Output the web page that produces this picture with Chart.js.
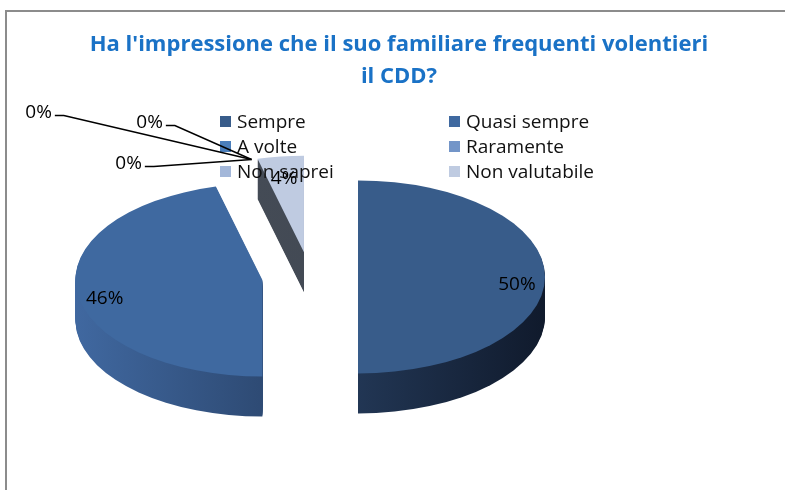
<!DOCTYPE html>
<html>
<head>
<meta charset="utf-8">
<script src="https://cdn.jsdelivr.net/npm/chart.js@4.4.0/dist/chart.umd.min.js"></script>
<style>
	body { margin: 0; background: #fff; }
</style>
</head>
<body>
<canvas id="mycanvas" width="785" height="490"></canvas>
<script>
var categories = ["Sempre", "Quasi sempre", "A volte", "Raramente", "Non saprei", "Non valutabile"];
var percentages = [50, 46, 0, 0, 0, 4];
var titleLines = ["Ha l'impressione che il suo familiare frequenti volentieri", "il CDD?"];

// colours of the top faces, and the shading of the sides (left -> right)
var topColors = ["#385c8a", "#3f69a0", "#4a7ebb", "#7395c8", "#a3b7d9", "#bfcbe1"];
var sideFrom = ["#33527c", "#4068a0", "#3f5f8c", "#55709a", "#5a6472", "#474e59"];
var sideTo = ["#101a2c", "#1c2d48", "#1c2d48", "#1c2d48", "#3a404b", "#3f4650"];

var TILT = 0.516;     // vertical squash of the pie
var DEPTH = 40;       // thickness in px
var EXPLODE = 48;     // how far slices are pulled out
var SHIFT_X = -89;    // pie sits left of the chart centre
var LABEL_R = 0.85;
var LABEL_DY = 8;
var legendBox = { x: 220, y: 116, colWidth: 229, rowHeight: 25, size: 11 };
var leaderOffsets = [[-213, -47], [-102, -37], [-123, 4]];

function project(arc, u, v) {
	return { x: arc.x + SHIFT_X + u, y: arc.y + v * TILT };
}

var pie3d = {
	id: 'pie3d',
	beforeDraw: function(chart) {
		var ctx = chart.ctx;
		ctx.save();
		ctx.strokeStyle = "#8c8c8c";
		ctx.lineWidth = 2;
		ctx.strokeRect(6, 11, 820, 520);
		ctx.restore();
	},
	beforeDatasetsDraw: function(chart) {
		var ctx = chart.ctx;
		var arcs = chart.getDatasetMeta(0).data;

		function place(arc, k) {
			var mid = (arc.startAngle + arc.endAngle) / 2;
			ctx.translate(arc.x + SHIFT_X, arc.y + k);
			ctx.scale(1, TILT);
			ctx.translate(-arc.x + Math.cos(mid) * EXPLODE, -arc.y + Math.sin(mid) * EXPLODE);
		}
		function drawWith(arc, fill) {
			var el = Object.create(arc);
			el.options = Object.assign({}, arc.options, { backgroundColor: fill, borderWidth: 0, offset: 0 });
			el.draw(ctx);
		}

		// back slices first
		var order = arcs.map(function(a, i) { return i; }).filter(function(i) {
			return arcs[i].circumference > 0;
		});
		order.sort(function(a, b) {
			var ma = (arcs[a].startAngle + arcs[a].endAngle) / 2;
			var mb = (arcs[b].startAngle + arcs[b].endAngle) / 2;
			return Math.sin(ma) - Math.sin(mb);
		});

		order.forEach(function(i) {
			var arc = arcs[i];
			var g = ctx.createLinearGradient(arc.x - arc.outerRadius, 0, arc.x + arc.outerRadius, 0);
			g.addColorStop(0, sideFrom[i]);
			g.addColorStop(1, sideTo[i]);
			for (var k = DEPTH; k >= 1; k--) {
				ctx.save();
				place(arc, k);
				drawWith(arc, g);
				ctx.restore();
			}
		});
		order.forEach(function(i) {
			ctx.save();
			place(arcs[i], 0);
			drawWith(arcs[i], topColors[i]);
			ctx.restore();
		});
		return false;
	},
	afterDraw: function(chart) {
		var ctx = chart.ctx;
		var arcs = chart.getDatasetMeta(0).data;
		var total = percentages.reduce(function(s, v) { return s + v; }, 0);

		// legend, two columns
		ctx.save();
		ctx.font = "19px 'Open Sans'";
		ctx.textBaseline = "middle";
		ctx.textAlign = "left";
		categories.forEach(function(name, i) {
			var col = i % 2, row = Math.floor(i / 2);
			var bx = legendBox.x + col * legendBox.colWidth;
			var by = legendBox.y + row * legendBox.rowHeight;
			ctx.fillStyle = topColors[i];
			ctx.fillRect(bx, by, legendBox.size, legendBox.size);
			ctx.fillStyle = "#111";
			ctx.fillText(name, bx + legendBox.size + 6, by + legendBox.size / 2 + 1);
		});

		// data labels
		ctx.textAlign = "center";
		ctx.fillStyle = "#000";
		ctx.strokeStyle = "#000";
		ctx.lineWidth = 1.5;
		var z = 0;
		arcs.forEach(function(arc, i) {
			var txt = Math.round(percentages[i] / total * 100) + "%";
			var mid = (arc.startAngle + arc.endAngle) / 2;
			if (percentages[i] > 0) {
				var rr = EXPLODE + LABEL_R * arc.outerRadius;
				var p = project(arc, Math.cos(mid) * rr, Math.sin(mid) * rr);
				ctx.fillText(txt, p.x, p.y + LABEL_DY);
			} else {
				var ra = EXPLODE + arc.outerRadius;
				var a = project(arc, Math.cos(mid) * ra, Math.sin(mid) * ra);
				var off = leaderOffsets[z++ % leaderOffsets.length];
				var tx = a.x + off[0], ty = a.y + off[1];
				var hw = ctx.measureText(txt).width / 2;
				ctx.fillText(txt, tx, ty);
				ctx.beginPath();
				ctx.moveTo(tx + hw + 3, ty + 3);
				ctx.lineTo(tx + hw + 12, ty + 3);
				ctx.lineTo(a.x, a.y);
				ctx.stroke();
			}
		});
		ctx.restore();
	}
};

var ctx = document.getElementById("mycanvas");

var chartdata = {
	labels: categories,
	datasets: [
		{
			data: percentages,
			backgroundColor: topColors,
			borderWidth: 0,
			radius: 187
		}
	]
};

var PieGraph = new Chart(ctx, {
	type: 'pie',
	data: chartdata,
	options: {
		responsive: false,
		devicePixelRatio: 1,
		animation: false,
		events: [],
		layout: { padding: { left: 13, right: 0, top: 0, bottom: 39 } },
		plugins: {
			legend: { display: false },
			tooltip: { enabled: false },
			title: {
				display: true,
				text: titleLines,
				color: "#1a72c6",
				font: { family: "'Open Sans'", size: 22, weight: 'bold', lineHeight: 1.45 },
				padding: { top: 29, bottom: 10 }
			}
		}
	},
	plugins: [pie3d]
});
</script>
</body>
</html>
